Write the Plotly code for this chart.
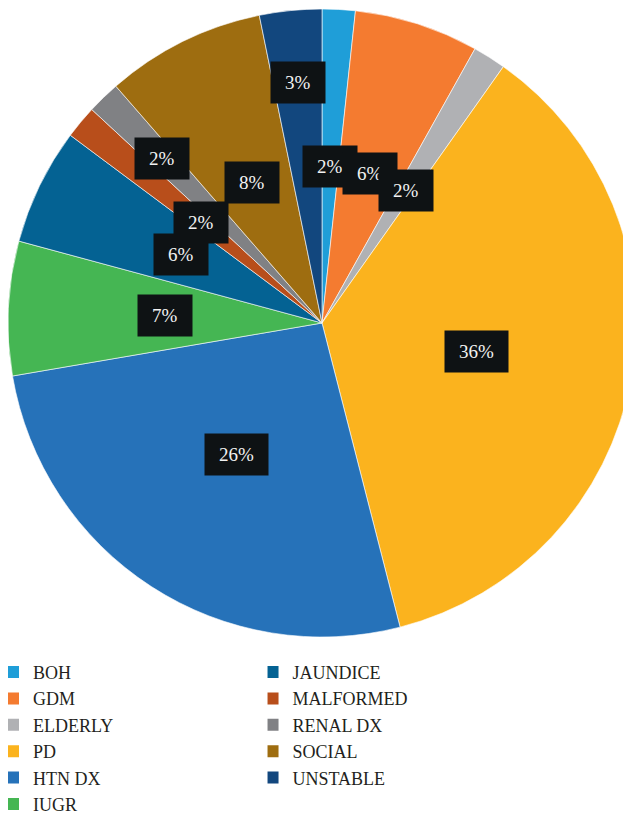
import math
import plotly.graph_objects as go

# slice order, clockwise from 12 o'clock
labels = ["BOH", "GDM", "ELDERLY", "PD", "HTN DX", "IUGR",
          "JAUNDICE", "MALFORMED", "RENAL DX", "SOCIAL", "UNSTABLE"]
values = [1.7, 6.4, 1.7, 36.2, 26.3, 6.9, 6.0, 1.7, 1.7, 8.2, 3.2]
colors = ["#1F9ED8", "#F47B30", "#B0B1B4", "#FBB31E", "#2672B9", "#45B653",
          "#046293", "#B84E1B", "#808184", "#9E6D10", "#12477E"]

W, H = 631, 818
# pie placement in figure pixels (page body adds an 8px margin)
PIE_LEFT, PIE_TOP, PIE_SIZE = 0, 1, 628
cx = PIE_LEFT + PIE_SIZE / 2
cy = PIE_TOP + PIE_SIZE / 2
R = PIE_SIZE / 2

# how far out along the radius each label sits (Excel nudged two of them)
label_radius = {"RENAL DX": 0.73, "UNSTABLE": 0.77}

fig = go.Figure()

fig.add_trace(go.Pie(
    labels=labels,
    values=values,
    sort=False,
    direction="clockwise",
    rotation=0,
    marker=dict(colors=colors, line=dict(color="white", width=0.6)),
    textinfo="none",
    hovertemplate="%{label}: %{percent:.0%}<extra></extra>",
    showlegend=False,
    domain=dict(x=[PIE_LEFT / W, (PIE_LEFT + PIE_SIZE) / W],
                y=[1 - (PIE_TOP + PIE_SIZE) / H, 1 - PIE_TOP / H]),
))

# black percentage boxes
total = sum(values)
cum = 0.0
for lab, v in zip(labels, values):
    theta = 2 * math.pi * (cum + v / 2) / total
    cum += v
    f = label_radius.get(lab, 0.5)
    px = cx + f * R * math.sin(theta)
    py = cy - f * R * math.cos(theta)
    txt = f"{round(100 * v / total)}%"
    fig.add_annotation(
        x=px / W, y=1 - py / H, xref="paper", yref="paper",
        text=txt, showarrow=False,
        font=dict(family="Liberation Serif, Times New Roman, serif", size=19, color="#F2F2F2"),
        bgcolor="#0E1214", borderpad=10,
        width=9.5 * (len(txt) - 1) + 24, height=21,
        xanchor="center", yanchor="middle",
    )

# legend entries, two columns
for i, (lab, col) in enumerate(zip(labels, colors)):
    fig.add_trace(go.Scatter(
        x=[None], y=[None], mode="markers", name=lab,
        marker=dict(symbol="square", size=12, color=col),
        legend="legend" if i < 6 else "legend2",
        hoverinfo="skip",
    ))

legend_style = dict(
    xanchor="left", yanchor="top",
    bgcolor="rgba(0,0,0,0)",
    font=dict(family="Liberation Serif, Times New Roman, serif", size=18, color="#231F20"),
    itemclick=False, itemdoubleclick=False,
    traceorder="normal",
    indentation=-15,
)

fig.update_layout(
    width=W, height=H,
    margin=dict(l=0, r=0, t=0, b=0),
    paper_bgcolor="white",
    plot_bgcolor="white",
    xaxis=dict(visible=False),
    yaxis=dict(visible=False),
    legend=dict(x=0, y=0.2105, **legend_style),
    legend2=dict(x=0.4113, y=0.2105, **legend_style),
)

fig.write_html("out.html")
